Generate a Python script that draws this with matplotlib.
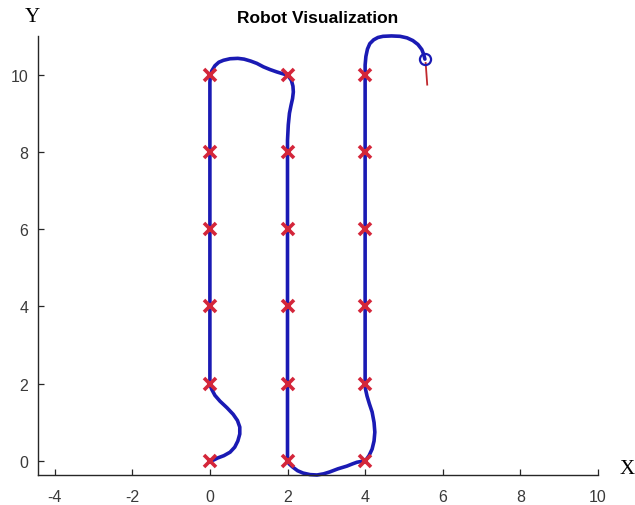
import matplotlib.pyplot as plt

plt.rcParams['axes.unicode_minus'] = False

# waypoints (red crosses)
way_x = [0, 0, 0, 0, 0, 0, 2, 2, 2, 2, 2, 2, 4, 4, 4, 4, 4, 4]
way_y = [0, 2, 4, 6, 8, 10, 10, 8, 6, 4, 2, 0, 0, 2, 4, 6, 8, 10]

# robot trajectory
path_x = [0, 0.1, 0.2, 0.36, 0.52, 0.64, 0.72, 0.77, 0.77, 0.71, 0.6, 0.44,
          0.26, 0.13, 0.05, 0.01, 0,
          0, 0, 0, 0, 0.01, 0.05, 0.13, 0.23, 0.35, 0.52, 0.72, 0.88, 1.05,
          1.21, 1.38, 1.55, 1.72, 1.85, 1.95, 2.03, 2.1, 2.14, 2.15, 2.13,
          2.09, 2.05, 2.02, 2.0, 2.0,
          2.0, 2.0, 2.0, 2.0,
          2.04, 2.14, 2.26, 2.4, 2.58, 2.76, 2.93, 3.09, 3.3, 3.53, 3.68,
          3.79, 3.9, 4.0,
          4.1, 4.18, 4.23, 4.25, 4.23, 4.18, 4.11, 4.05, 4.01, 4.0,
          4.0, 4.0, 4.0, 4.0, 4.0, 4.02, 4.06, 4.12, 4.22, 4.33, 4.46, 4.68,
          4.9, 5.08, 5.23, 5.36, 5.46, 5.51, 5.54]
path_y = [0, 0.03, 0.08, 0.14, 0.23, 0.36, 0.52, 0.7, 0.88, 1.05, 1.21, 1.38,
          1.55, 1.7, 1.85, 1.95, 2.0,
          4, 6, 8, 9.8, 9.95, 10.1, 10.23, 10.32, 10.37, 10.41, 10.42, 10.4,
          10.35, 10.29, 10.2, 10.13, 10.07, 10.03, 10.0, 9.95, 9.85, 9.7,
          9.55, 9.38, 9.2, 9.0, 8.7, 8.3, 8.0,
          6, 4, 2, 0,
          -0.07, -0.16, -0.25, -0.31, -0.35, -0.36, -0.33, -0.28, -0.2, -0.13,
          -0.07, -0.03, -0.01, 0,
          0.14, 0.31, 0.52, 0.75, 1.0, 1.27, 1.48, 1.68, 1.86, 2.0,
          4, 6, 8, 10, 10.25, 10.47, 10.66, 10.8, 10.9, 10.96, 10.99, 11.0,
          10.99, 10.95, 10.88, 10.78, 10.65, 10.52, 10.4]

robot_x, robot_y = 5.54, 10.4
heading_x = [5.56, 5.6]
heading_y = [10.3, 9.74]

xticks = [-4, -2, 0, 2, 4, 6, 8, 10]
yticks = [0, 2, 4, 6, 8, 10]

fig = plt.figure(figsize=(6.35, 5.06), dpi=100)
ax = fig.add_axes([0.0598, 0.0593, 0.8819, 0.8677])

ax.plot(path_x, path_y, color='#1a1ab4', lw=2.6, solid_joinstyle='round',
        solid_capstyle='round', clip_on=False, zorder=2)
ax.plot(way_x, way_y, 'x', color='#d4263a', ms=9, mew=2.6, clip_on=False, zorder=3)
ax.plot(heading_x, heading_y, color='#c0282d', lw=1.3, zorder=2)
ax.plot(robot_x, robot_y, 'o', mfc='none', mec='#1a1ab4', ms=8, mew=1.6, zorder=4)

ax.set_xlim(-4.43, 10.0)
ax.set_ylim(-0.36, 11.0)
ax.set_xticks(xticks)
ax.set_yticks(yticks)
ax.tick_params(direction='in', length=4, width=0.9, colors='#262626',
               labelcolor='#3a3a3a', labelsize=11.5)
ax.tick_params(axis='x', pad=10)
ax.tick_params(axis='y', pad=7)
for lab in ax.get_xticklabels() + ax.get_yticklabels():
    lab.set_family('Liberation Sans')
for s in ['top', 'right']:
    ax.spines[s].set_visible(False)
for s in ['left', 'bottom']:
    ax.spines[s].set_linewidth(1.0)
    ax.spines[s].set_color('#262626')

ax.set_title('Robot Visualization', fontsize=12.5, fontweight='bold',
             family='Liberation Sans', pad=10)
fig.text(32 / 635, 1 - 18 / 506, 'Y', family='Liberation Serif', fontsize=15,
         ha='center', va='center')
fig.text(627 / 635, 1 - 470 / 506, 'X', family='Liberation Serif', fontsize=15,
         ha='center', va='center')

fig.savefig('out.png', dpi=100)
